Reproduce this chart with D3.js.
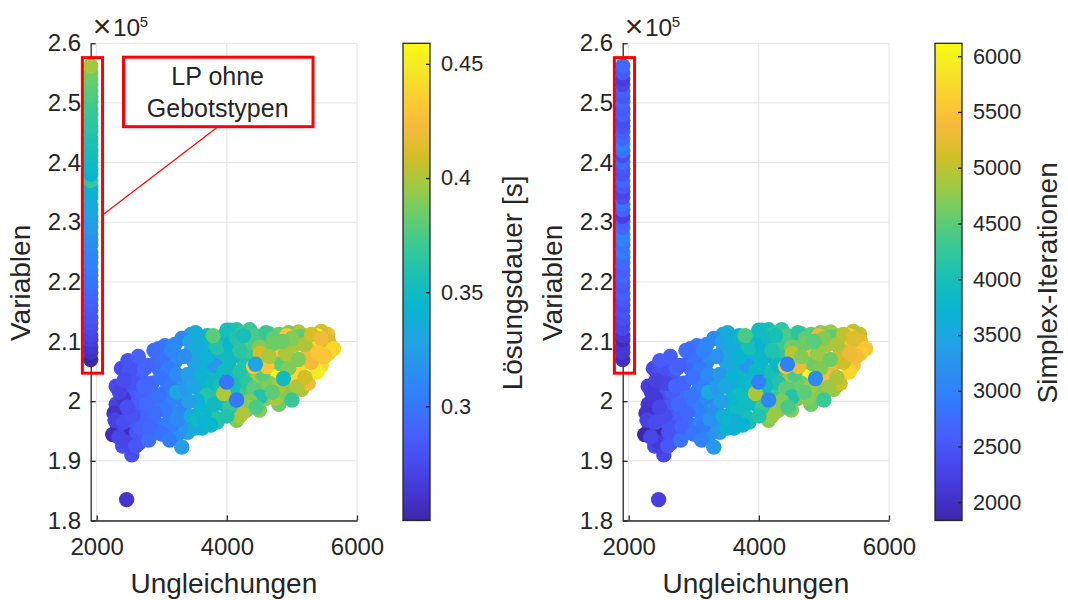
<!DOCTYPE html>
<html>
<head>
<meta charset="utf-8">
<script src="https://cdn.jsdelivr.net/npm/d3@7"></script>
<style>
  body { margin: 0; background: #fff; }
  text { font-family: "Liberation Sans", Arial, sans-serif; fill: #262626; }
</style>
</head>
<body>
<div id="chart"></div>
<script>
// LP ohne Gebotstypen: [Ungleichungen, Variablen, Lösungsdauer, Simplex-Iterationen]
const spalteLP = [
  [1908, 207000, 0.250, 2000], [1908, 208200, 0.258, 2100], [1908, 209100, 0.262, 2100],
  [1908, 210300, 0.266, 1950], [1908, 211000, 0.270, 2100], [1908, 212200, 0.274, 2300],
  [1908, 213100, 0.277, 2300], [1908, 214000, 0.280, 2400], [1908, 215200, 0.282, 2450],
  [1908, 216100, 0.285, 2400], [1908, 217000, 0.288, 2500], [1908, 218100, 0.291, 2600],
  [1908, 219200, 0.294, 2500], [1908, 220000, 0.297, 2550], [1908, 221100, 0.300, 2650],
  [1908, 222000, 0.302, 2600], [1908, 223200, 0.305, 2700], [1908, 224100, 0.307, 2750],
  [1908, 225000, 0.309, 2900], [1908, 226200, 0.312, 2800], [1908, 227100, 0.314, 3000],
  [1908, 228000, 0.317, 3000], [1908, 229100, 0.320, 2700], [1908, 230200, 0.323, 2600],
  [1908, 231000, 0.327, 2200], [1908, 232100, 0.330, 2600], [1908, 233000, 0.333, 2800],
  [1908, 234200, 0.336, 2400], [1908, 235100, 0.338, 2300], [1908, 236000, 0.340, 2500],
  [1908, 237000, 0.368, 2650], [1908, 238100, 0.343, 2450], [1908, 239000, 0.347, 2500],
  [1908, 240100, 0.349, 2700], [1908, 241200, 0.352, 2350], [1908, 242000, 0.354, 2800],
  [1908, 243100, 0.356, 3000], [1908, 244000, 0.358, 2700], [1908, 245200, 0.361, 2600],
  [1908, 246100, 0.363, 2450], [1908, 247000, 0.365, 2400], [1908, 248100, 0.367, 2600],
  [1908, 249000, 0.369, 2550], [1908, 250200, 0.372, 2650], [1908, 251100, 0.375, 2500],
  [1908, 252000, 0.377, 2600], [1908, 253100, 0.380, 2300], [1908, 254000, 0.383, 2200],
  [1908, 255100, 0.386, 2550], [1908, 256200, 0.398, 2700]
];

// Modelle mit Gebotstypen
const wolke = [
  // Füllung
  [2320, 195500, 0.274, 2250], [2380, 199000, 0.276, 2250], [2530, 199500, 0.282, 2400],
  [2480, 197000, 0.280, 2350], [2650, 197500, 0.288, 2550], [2590, 205000, 0.285, 2500],
  [2700, 203500, 0.292, 2600], [2540, 195500, 0.282, 2400], [2400, 192500, 0.276, 2300],
  [2580, 193500, 0.282, 2450], [2720, 194500, 0.292, 2650], [2450, 204500, 0.278, 2350],
  [2300, 202500, 0.274, 2200], [2650, 193000, 0.286, 2500],
  [2850, 200000, 0.295, 2700], [3000, 199500, 0.300, 2850], [3100, 199000, 0.305, 2950],
  [2900, 194800, 0.296, 2750], [3050, 195500, 0.303, 2900], [3180, 198000, 0.312, 3100],
  [2950, 205500, 0.298, 2800], [3050, 209300, 0.303, 2900], [3150, 204500, 0.308, 3000],
  [2830, 197500, 0.293, 2650], [3250, 207500, 0.318, 3200], [3280, 202800, 0.318, 3200],
  [3400, 194800, 0.330, 3400], [3600, 199000, 0.345, 3700], [3500, 203500, 0.330, 3500],
  [3700, 202000, 0.350, 3800], [3800, 204500, 0.345, 3700], [3650, 210200, 0.345, 3700],
  [3450, 211200, 0.325, 3300], [3550, 205500, 0.335, 3600], [3850, 196500, 0.360, 4000],
  [3350, 200500, 0.320, 3300], [3700, 197000, 0.350, 3800], [3900, 210500, 0.355, 3900],
  [3620, 195500, 0.345, 3700],
  [4000, 207000, 0.350, 3800], [4150, 212000, 0.360, 4000], [4350, 212000, 0.370, 4200],
  [4500, 210500, 0.380, 4400], [4400, 201000, 0.385, 4600], [4250, 204000, 0.365, 4100],
  [4050, 201800, 0.360, 4000], [4150, 196800, 0.390, 4700], [4300, 198500, 0.385, 4600],
  [4550, 206500, 0.390, 4600], [4100, 208800, 0.355, 3900], [3950, 211000, 0.350, 3800],
  [4450, 208500, 0.380, 4400],
  [4700, 206500, 0.400, 4800], [4850, 204500, 0.390, 4700], [5000, 207000, 0.400, 4900],
  [5100, 205000, 0.420, 5000], [5250, 210300, 0.410, 5000], [5500, 209000, 0.430, 5300],
  [4600, 200500, 0.390, 4700], [4800, 199500, 0.385, 4600], [4950, 203000, 0.400, 4800],
  [5300, 207800, 0.430, 5300], [4650, 211300, 0.380, 4500], [5100, 211600, 0.400, 4800],
  [5550, 211200, 0.420, 5100], [4743, 204100, 0.459, 6116],
  [2380, 205500, 0.276, 2300], [2450, 202000, 0.276, 2250], [2300, 199500, 0.270, 2100],
  [2560, 201000, 0.282, 2400], [2650, 204500, 0.288, 2500], [2700, 199000, 0.290, 2550],
  [2780, 201000, 0.293, 2650], [2350, 197500, 0.272, 2200], [2440, 195000, 0.276, 2300],
  [2600, 196000, 0.284, 2500], [2900, 201000, 0.295, 2750], [3050, 201500, 0.302, 2900],
  [3150, 202500, 0.307, 3000], [2950, 196000, 0.298, 2800], [3100, 196500, 0.306, 3050],
  [3250, 194500, 0.315, 3200], [3200, 206500, 0.312, 3100], [2950, 208800, 0.298, 2800],
  [3350, 196000, 0.320, 3300], [3600, 201500, 0.345, 3700], [3700, 200000, 0.355, 3900],
  [3800, 197500, 0.360, 4000], [3450, 208500, 0.330, 3400], [3650, 206000, 0.340, 3600],
  [3550, 208000, 0.335, 3500], [3350, 203500, 0.320, 3300], [3900, 208000, 0.350, 3800],
  [3850, 200500, 0.360, 4000], [3950, 199500, 0.355, 3900], [3750, 209500, 0.355, 3900],
  [4100, 199500, 0.380, 4500], [4250, 201500, 0.370, 4300], [4350, 204000, 0.375, 4300],
  [4450, 203500, 0.400, 4800], [4550, 202000, 0.385, 4500], [4150, 204000, 0.355, 3900],
  [4300, 209500, 0.370, 4200], [4600, 209000, 0.380, 4500], [4050, 205500, 0.350, 3800],
  [4250, 207000, 0.365, 4100], [4500, 198500, 0.390, 4700], [4200, 197500, 0.400, 4800],
  [4650, 203000, 0.390, 4600], [4750, 200500, 0.400, 4700], [4900, 201500, 0.390, 4700],
  [5150, 202000, 0.400, 4800], [5250, 203000, 0.420, 5100], [5450, 206000, 0.440, 5500],
  [5600, 209000, 0.430, 5400], [5050, 209500, 0.400, 4900], [4950, 211500, 0.390, 4700],
  [5200, 211000, 0.400, 4800], [5450, 211700, 0.410, 5000], [5350, 209500, 0.440, 5400],
  [4800, 211200, 0.385, 4500],
  // links unten
  [2460, 183500, 0.262, 2200], [2246, 194400, 0.255, 1836], [2500, 194300, 0.258, 1900],
  [2540, 191000, 0.278, 2300], [2266, 198000, 0.260, 2050], [2410, 200500, 0.264, 2100],
  [2282, 196800, 0.270, 2250], [2410, 196500, 0.278, 2350], [2512, 192300, 0.275, 2200],
  [2460, 193100, 0.272, 2150], [2615, 194800, 0.283, 2450], [2554, 206300, 0.282, 2500],
  [2500, 205000, 0.280, 2400], [2666, 201500, 0.288, 2550], [2743, 205500, 0.292, 2700],
  [2350, 201500, 0.270, 2150], [2580, 203000, 0.280, 2300], [2620, 199000, 0.286, 2500],
  [2700, 197000, 0.290, 2600], [2420, 203500, 0.276, 2250], [2560, 197500, 0.280, 2350],
  [2340, 194000, 0.272, 2300], [2600, 192500, 0.282, 2500], [2680, 195500, 0.288, 2450],
  [2760, 199500, 0.293, 2700], [2480, 206800, 0.280, 2550], [2640, 207500, 0.288, 2600],
  [2720, 202500, 0.292, 2650], [2800, 193500, 0.296, 2800], [2470, 199000, 0.278, 2300],
  // Mitte links
  [2923, 206600, 0.295, 2700], [3077, 203200, 0.303, 3000], [3154, 196000, 0.305, 2900],
  [2820, 195700, 0.292, 2650], [3025, 207400, 0.298, 2800], [2880, 208500, 0.295, 2750],
  [2960, 201000, 0.298, 2850], [3050, 198500, 0.303, 2950], [2900, 198000, 0.295, 2700],
  [3200, 200500, 0.308, 3100], [3100, 205500, 0.303, 2900], [2850, 203000, 0.292, 2650],
  [3000, 194500, 0.298, 2850], [3150, 208500, 0.308, 3000], [3230, 204500, 0.312, 3100],
  [2980, 204000, 0.298, 2800], [3120, 193500, 0.303, 3000], [3250, 197000, 0.312, 3200],
  [3200, 209500, 0.312, 3050], [2780, 206000, 0.290, 2600],
  // Mitte
  [3308, 192300, 0.325, 3300], [3512, 195500, 0.335, 3700], [3308, 210500, 0.310, 3100],
  [3435, 210000, 0.330, 3400], [3333, 198800, 0.310, 3200], [3230, 201500, 0.330, 3500],
  [3380, 202000, 0.320, 3300], [3690, 201000, 0.360, 3900], [3820, 206000, 0.320, 3300],
  [3500, 206500, 0.330, 3500], [3600, 209500, 0.335, 3600], [3700, 207500, 0.340, 3700],
  [3400, 204500, 0.325, 3300], [3550, 200000, 0.340, 3800], [3450, 197500, 0.335, 3600],
  [3650, 198000, 0.345, 3900], [3750, 203500, 0.350, 3800], [3350, 207500, 0.315, 3200],
  [3600, 204000, 0.340, 3700], [3800, 199500, 0.350, 3900], [3700, 211000, 0.345, 3800],
  [3480, 202500, 0.330, 3500], [3850, 209000, 0.360, 4000], [3790, 211000, 0.380, 4400],
  [3550, 197000, 0.350, 3800], [3420, 200000, 0.325, 3400], [3650, 196500, 0.340, 3600],
  [3520, 211500, 0.335, 3600], [3900, 202500, 0.355, 3900], [3750, 196000, 0.345, 3700],
  // Mitte rechts
  [4051, 211900, 0.360, 4000], [4250, 211400, 0.370, 4200], [4358, 209300, 0.375, 4300],
  [3974, 201500, 0.410, 5000], [4253, 198200, 0.400, 4800], [4000, 211900, 0.355, 3900],
  [4100, 207500, 0.350, 3800], [4200, 205000, 0.360, 4000], [4300, 203000, 0.365, 4100],
  [4410, 202100, 0.380, 4500], [4512, 200700, 0.360, 4100], [4050, 209500, 0.345, 3700],
  [4400, 207500, 0.370, 4200], [4150, 210500, 0.360, 3900], [3950, 205000, 0.350, 3800],
  [4450, 211000, 0.375, 4400], [4350, 200000, 0.390, 4700], [4050, 199000, 0.370, 4300],
  [4550, 204500, 0.380, 4400], [4256, 211000, 0.355, 4000], [4100, 202500, 0.355, 3900],
  [3949, 201300, 0.400, 4900], [4500, 209000, 0.390, 4600], [4200, 208500, 0.365, 4100],
  [4600, 211500, 0.370, 4200], [4300, 206000, 0.360, 3800], [4410, 205800, 0.430, 5400],
  [4512, 208000, 0.410, 5000], [4000, 197500, 0.360, 4100], [4450, 199000, 0.375, 4400],
  // rechts
  [4717, 210500, 0.380, 4500], [4923, 211000, 0.430, 5300], [5128, 210800, 0.380, 4500],
  [5385, 211000, 0.450, 5600], [5564, 210000, 0.410, 5200], [5640, 208800, 0.440, 5500],
  [5564, 208000, 0.440, 5600], [5256, 208500, 0.420, 5100], [5154, 206300, 0.440, 5300],
  [5385, 204900, 0.450, 5700], [5051, 204100, 0.440, 5400], [5077, 202400, 0.400, 4800],
  [5000, 200200, 0.370, 4300], [4743, 208500, 0.430, 5400], [4820, 206300, 0.380, 4600],
  [4615, 205800, 0.430, 5300], [4717, 209700, 0.385, 4600], [4900, 208000, 0.400, 4800],
  [5000, 210500, 0.390, 4700], [5200, 209500, 0.400, 4900], [5300, 211200, 0.410, 5000],
  [5450, 210500, 0.420, 5200], [5500, 207500, 0.430, 5400], [5300, 206500, 0.420, 5100],
  [5200, 204000, 0.410, 4900], [4950, 205500, 0.390, 4700], [4800, 202500, 0.400, 4800],
  [4700, 201500, 0.380, 4500], [5100, 207000, 0.390, 4600], [4650, 207500, 0.400, 4700],
  [4850, 210000, 0.385, 4500], [5400, 208000, 0.430, 5300],
  // obenauf
  [4440, 206200, 0.330, 3000], [3997, 203200, 0.300, 3000], [4150, 200200, 0.300, 3050],
  [4870, 203800, 0.350, 3100]
];

const xTicks = [2000, 4000, 6000];
const yTicks = [180000, 190000, 200000, 210000, 220000, 230000, 240000, 250000, 260000];
const zeitTicks = [0.3, 0.35, 0.4, 0.45];
const iterTicks = [2000, 2500, 3000, 3500, 4000, 4500, 5000, 5500, 6000];

// parula (MATLAB)
const parula = [
  [62, 38, 168], [69, 55, 213], [72, 77, 240], [69, 99, 253], [50, 124, 252],
  [43, 145, 239], [32, 165, 227], [8, 181, 208], [25, 191, 182], [55, 200, 151],
  [100, 205, 111], [157, 201, 67], [209, 191, 39], [248, 186, 61], [252, 207, 48],
  [245, 233, 36], [249, 251, 21]
];
const parulaPos = [0, 4, 8, 12, 16, 20, 24, 28, 32, 36, 40, 44, 48, 52, 56, 60, 63].map((i) => i / 63);
const parulaScale = d3.scaleLinear()
  .domain(parulaPos)
  .range(parula.map((c) => d3.rgb(c[0], c[1], c[2]).toString()))
  .interpolate(d3.interpolateRgb)
  .clamp(true);

const punkte = spalteLP.concat(wolke);

const W = 1068, H = 600;
const svg = d3.select("#chart").append("svg").attr("width", W).attr("height", H);
const defs = svg.append("defs");

const plotW = 266.3, plotH = 477.2;
const ax = { left: 90.7, top: 43.3 };
const fontFam = '"Liberation Sans", Arial, sans-serif';

function panel(offset, col, ticks, label, labelX, id, annotation) {
  const g = svg.append("g").attr("transform", `translate(${ax.left + offset},${ax.top})`);

  const x = d3.scaleLinear().domain([1908, 6000]).range([0, plotW]);
  const y = d3.scaleLinear().domain([180000, 260000]).range([plotH, 0]);
  const ext = d3.extent(punkte, (d) => d[col]);
  const c = d3.scaleLinear().domain(ext).range([0, 1]);

  // grid
  g.append("g").selectAll("line").data(xTicks).join("line")
    .attr("x1", (d) => x(d)).attr("x2", (d) => x(d))
    .attr("y1", 0).attr("y2", plotH)
    .attr("stroke", "#e3e3e3").attr("stroke-width", 1);
  g.append("g").selectAll("line").data(yTicks).join("line")
    .attr("x1", 0).attr("x2", plotW)
    .attr("y1", (d) => y(d)).attr("y2", (d) => y(d))
    .attr("stroke", "#e3e3e3").attr("stroke-width", 1);

  // axes
  const xAxis = g.append("g").attr("transform", `translate(0,${plotH})`)
    .call(d3.axisBottom(x).tickValues(xTicks).tickSizeInner(-5).tickSizeOuter(0).tickPadding(17.5)
      .tickFormat(d3.format("d")));
  const yAxis = g.append("g")
    .call(d3.axisLeft(y).tickValues(yTicks).tickSizeInner(-5).tickSizeOuter(0).tickPadding(9.7)
      .tickFormat((d) => d3.format(".1~f")(d / 1e5)));
  [xAxis, yAxis].forEach((a) => {
    a.select(".domain").attr("stroke", "#262626").attr("stroke-width", 1.3);
    a.selectAll(".tick line").attr("stroke", "#262626").attr("stroke-width", 1.3);
    a.selectAll("text").attr("font-size", 24).attr("fill", "#262626").attr("font-family", fontFam);
  });

  // points
  g.append("g").selectAll("circle").data(punkte).join("circle")
    .attr("cx", (d) => x(d[0]))
    .attr("cy", (d) => y(d[1]))
    .attr("r", 7.7)
    .attr("fill", (d) => parulaScale(c(d[col])));

  // x10^5
  g.append("text").attr("x", 2).attr("y", -6).attr("font-size", 32).attr("font-weight", 300).text("×");
  g.append("text").attr("x", 22.3).attr("y", -7.5).attr("font-size", 24.5).text("10");
  g.append("text").attr("x", 49).attr("y", -16.6).attr("font-size", 15).text("5");

  // red box round the LP column
  g.append("rect")
    .attr("x", x(1780)).attr("y", y(257600))
    .attr("width", x(2090) - x(1780)).attr("height", y(204700) - y(257600))
    .attr("fill", "none").attr("stroke", "#ff0000").attr("stroke-width", 3);

  if (annotation) {
    g.append("line")
      .attr("x1", 127.3).attr("y1", 83.4).attr("x2", x(2090)).attr("y2", 171.7)
      .attr("stroke", "#ff0000").attr("stroke-width", 1.2);
    g.append("rect")
      .attr("x", 32.8).attr("y", 13.9).attr("width", 189.5).attr("height", 69.5)
      .attr("fill", "#fff").attr("stroke", "#ff0000").attr("stroke-width", 3);
    g.append("text").attr("x", 127).attr("y", 41.7).attr("text-anchor", "middle")
      .attr("font-size", 25).attr("fill", "#000").text("LP ohne");
    g.append("text").attr("x", 127).attr("y", 73.4).attr("text-anchor", "middle")
      .attr("font-size", 25).attr("fill", "#000").text("Gebotstypen");
  }

  // axis labels
  g.append("text").attr("x", plotW / 2).attr("y", 549.7).attr("text-anchor", "middle")
    .attr("font-size", 28).text("Ungleichungen");
  g.append("text").attr("transform", `translate(-60.7,${plotH / 2 + 1}) rotate(-90)`)
    .attr("text-anchor", "middle").attr("font-size", 28).text("Variablen");

  // colorbar
  const cbX = 312.3, cbW = 27;
  const grad = defs.append("linearGradient").attr("id", id)
    .attr("x1", 0).attr("y1", 1).attr("x2", 0).attr("y2", 0);
  grad.selectAll("stop").data(d3.range(0, 1.0001, 1 / 64)).join("stop")
    .attr("offset", (d) => d).attr("stop-color", (d) => parulaScale(d));
  const cb = g.append("g").attr("transform", `translate(${cbX},0)`);
  cb.append("rect").attr("width", cbW).attr("height", plotH).attr("fill", `url(#${id})`);
  const cy = d3.scaleLinear().domain(ext).range([plotH, 0]);
  const cbAxis = cb.append("g").attr("transform", `translate(${cbW},0)`)
    .call(d3.axisRight(cy).tickValues(ticks).tickSizeInner(-4).tickSizeOuter(0).tickPadding(11)
      .tickFormat((d) => String(d)));
  cbAxis.select(".domain").remove();
  cbAxis.selectAll(".tick line").attr("stroke", "#262626").attr("stroke-width", 1.3);
  cbAxis.selectAll("text").attr("font-size", 21.7).attr("fill", "#262626").attr("font-family", fontFam);
  cb.append("rect").attr("width", cbW).attr("height", plotH)
    .attr("fill", "none").attr("stroke", "#262626").attr("stroke-width", 1.3);
  g.append("text").attr("transform", `translate(${labelX},${plotH / 2 + 1}) rotate(-90)`)
    .attr("text-anchor", "middle").attr("font-size", 28).text(label);
}

panel(0, 2, zeitTicks, "Lösungsdauer [s]", 431, "cbZeit", true);
panel(532, 3, iterTicks, "Simplex-Iterationen", 434, "cbIter", false);
</script>
</body>
</html>
